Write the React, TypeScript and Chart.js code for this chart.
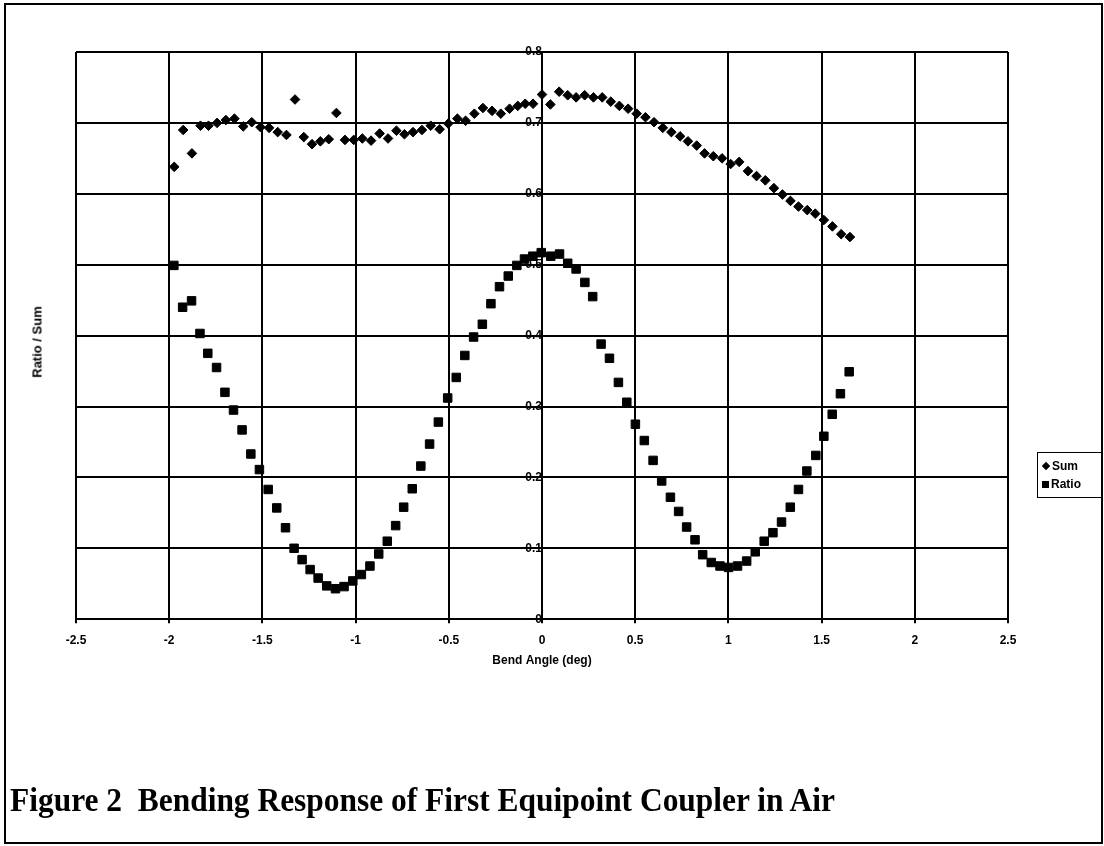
import React, { useEffect, useRef } from "react";
import { Chart, registerables } from "chart.js";

Chart.register(...registerables);

// Bend angle (deg) and Sum readings
const sumAngle = [
  -1.973, -1.925, -1.878, -1.832, -1.789, -1.743, -1.696, -1.65, -1.603, -1.557,
  -1.51, -1.464, -1.418, -1.371, -1.325, -1.278, -1.234, -1.189, -1.144, -1.103,
  -1.057, -1.01, -0.964, -0.917, -0.871, -0.826, -0.781, -0.738, -0.692, -0.644,
  -0.597, -0.549, -0.503, -0.454, -0.41, -0.363, -0.317, -0.268, -0.221, -0.174,
  -0.13, -0.09, -0.048, 0.0, 0.045, 0.092, 0.138, 0.183, 0.229, 0.276,
  0.323, 0.369, 0.415, 0.462, 0.508, 0.555, 0.601, 0.648, 0.694, 0.741,
  0.783, 0.83, 0.872, 0.919, 0.966, 1.012, 1.058, 1.105, 1.151, 1.198,
  1.244, 1.29, 1.333, 1.376, 1.423, 1.466, 1.512, 1.558, 1.605, 1.652,
];
const sumValue = [
  0.638, 0.69, 0.657, 0.696, 0.696, 0.7, 0.704, 0.706, 0.695, 0.701,
  0.694, 0.693, 0.687, 0.683, 0.733, 0.68, 0.67, 0.674, 0.677, 0.714,
  0.676, 0.676, 0.678, 0.675, 0.685, 0.678, 0.689, 0.684, 0.687, 0.69,
  0.696, 0.691, 0.699, 0.706, 0.703, 0.713, 0.721, 0.717, 0.713, 0.72,
  0.724, 0.727, 0.727, 0.74, 0.726, 0.744, 0.739, 0.736, 0.739, 0.736,
  0.736, 0.73, 0.724, 0.72, 0.713, 0.708, 0.701, 0.693, 0.687, 0.681,
  0.674, 0.668, 0.657, 0.653, 0.65, 0.642, 0.645, 0.632, 0.625, 0.619,
  0.608, 0.599, 0.59, 0.582, 0.577, 0.572, 0.563, 0.554, 0.543, 0.539,
];

// Bend angle (deg) and Ratio readings
const ratioAngle = [
  -1.975, -1.928, -1.88, -1.835, -1.793, -1.746, -1.701, -1.655, -1.609, -1.562,
  -1.516, -1.469, -1.423, -1.376, -1.33, -1.287, -1.244, -1.201, -1.155, -1.108,
  -1.062, -1.015, -0.969, -0.923, -0.876, -0.83, -0.785, -0.742, -0.696, -0.65,
  -0.603, -0.556, -0.506, -0.46, -0.414, -0.367, -0.32, -0.274, -0.228, -0.181,
  -0.135, -0.094, -0.049, -0.004, 0.047, 0.094, 0.138, 0.183, 0.23, 0.272,
  0.317, 0.362, 0.41, 0.455, 0.501, 0.549, 0.596, 0.642, 0.689, 0.733,
  0.776, 0.821, 0.862, 0.908, 0.955, 1.001, 1.049, 1.098, 1.144, 1.192,
  1.239, 1.285, 1.332, 1.376, 1.421, 1.469, 1.512, 1.557, 1.601, 1.648,
];
const ratioValue = [
  0.499, 0.44, 0.449, 0.403, 0.375, 0.355, 0.32, 0.295, 0.267, 0.233,
  0.211, 0.183, 0.157, 0.129, 0.1, 0.084, 0.07, 0.058, 0.047, 0.043,
  0.046, 0.054, 0.063, 0.075, 0.092, 0.11, 0.132, 0.158, 0.184, 0.216,
  0.247, 0.278, 0.312, 0.341, 0.372, 0.398, 0.416, 0.445, 0.469, 0.484,
  0.499, 0.508, 0.512, 0.517, 0.512, 0.515, 0.502, 0.494, 0.475, 0.455,
  0.388, 0.368, 0.334, 0.306, 0.275, 0.252, 0.224, 0.195, 0.172, 0.152,
  0.13, 0.112, 0.091, 0.08, 0.075, 0.073, 0.075, 0.082, 0.095, 0.11,
  0.122, 0.137, 0.158, 0.183, 0.209, 0.231, 0.258, 0.289, 0.318, 0.349,
];

const seriesNames = ["Sum", "Ratio"];
const xAxisTitle = "Bend Angle (deg)";
const yAxisTitle = "Ratio / Sum";
const captionText = "Figure 2  Bending Response of First Equipoint Coupler in Air";

const W = 1104;
const H = 846;
const labelFont = { family: "'Liberation Sans', Arial, sans-serif", weight: "bold" as const, size: 12 };

export default function App() {
  const canvasRef = useRef<HTMLCanvasElement | null>(null);
  const captionRef = useRef<HTMLSpanElement | null>(null);

  useEffect(() => {
    const canvas = canvasRef.current;
    if (!canvas) return;
    const chart = new Chart(canvas, {
      type: "scatter",
      data: {
        datasets: [
          {
            label: seriesNames[0],
            data: sumAngle.map((x, i) => ({ x, y: sumValue[i] })),
            pointStyle: "rectRot",
            pointRadius: 4.8,
            backgroundColor: "#000",
            borderColor: "#000",
            borderWidth: 1,
          },
          {
            label: seriesNames[1],
            data: ratioAngle.map((x, i) => ({ x, y: ratioValue[i] })),
            pointStyle: "rect",
            pointRadius: 6,
            backgroundColor: "#000",
            borderColor: "#000",
            borderWidth: 1,
          },
        ],
      },
      options: {
        animation: false,
        responsive: false,
        devicePixelRatio: 1,
        layout: { padding: { left: 76, right: 96, top: 52, bottom: 174 } },
        plugins: { legend: { display: false }, tooltip: { enabled: false } },
        scales: {
          x: {
            type: "linear",
            position: "bottom",
            min: -2.5,
            max: 2.5,
            ticks: {
              stepSize: 0.5,
              color: "#000",
              font: labelFont,
              padding: 10,
              maxRotation: 0,
              autoSkip: false,
              callback: (v: any) => String(Number(Number(v).toFixed(2))),
            },
            grid: { color: "#000", lineWidth: 2, tickLength: 4, drawTicks: true },
            border: { color: "#000", width: 2 },
            title: {
              display: true,
              text: xAxisTitle,
              color: "#000",
              font: labelFont,
              padding: { top: -4, bottom: 4 },
            },
          },
          y: {
            type: "linear",
            position: { x: 0 } as any,
            min: 0,
            max: 0.8,
            ticks: {
              stepSize: 0.1,
              color: "#000",
              font: labelFont,
              padding: 6,
              callback: (v: any) => String(Number(Number(v).toFixed(2))),
            },
            grid: { color: "#000", lineWidth: 2, drawTicks: false },
            border: { color: "#000", width: 2 },
          },
        },
      },
    });
    return () => chart.destroy();
  }, []);

  useEffect(() => {
    const fit = () => {
      const el = captionRef.current;
      if (!el) return;
      el.style.transform = "none";
      const w = el.getBoundingClientRect().width;
      if (w > 0) el.style.transform = `scaleX(${825 / w})`;
    };
    fit();
    if ((document as any).fonts && (document as any).fonts.ready) {
      (document as any).fonts.ready.then(fit);
    }
  }, []);

  return (
    <div style={{ position: "absolute", left: 0, top: 0, width: W, height: H, background: "#fff", overflow: "hidden" }}>
      <div
        style={{
          position: "absolute",
          left: 4,
          top: 3,
          width: 1099,
          height: 841,
          border: "2px solid #000",
          boxSizing: "border-box",
        }}
      />
      <canvas ref={canvasRef} width={W} height={H} style={{ position: "absolute", left: 0, top: 0, width: W, height: H }} />
      <div
        style={{
          position: "absolute",
          left: 37,
          top: 342,
          transform: "translate(-50%, -50%) rotate(-90deg)",
          font: "bold 13px 'Liberation Sans', Arial, sans-serif",
          whiteSpace: "nowrap",
          color: "#000",
        }}
      >
        {yAxisTitle}
      </div>
      <div
        style={{
          position: "absolute",
          left: 1037,
          top: 452,
          width: 65,
          height: 46,
          border: "1px solid #000",
          boxSizing: "border-box",
          font: "bold 12px 'Liberation Sans', Arial, sans-serif",
          color: "#000",
          padding: "4px 0 0 3px",
        }}
      >
        <div style={{ display: "flex", alignItems: "center", height: 18 }}>
          <span style={{ display: "inline-block", width: 6, height: 6, background: "#000", transform: "rotate(45deg)", margin: "0 3px 0 2px" }} />
          {seriesNames[0]}
        </div>
        <div style={{ display: "flex", alignItems: "center", height: 18 }}>
          <span style={{ display: "inline-block", width: 7, height: 7, background: "#000", margin: "0 2px 0 1px" }} />
          {seriesNames[1]}
        </div>
      </div>
      <div style={{ position: "absolute", left: 10, top: 781, whiteSpace: "pre", lineHeight: 1 }}>
        <span
          ref={captionRef}
          style={{
            display: "inline-block",
            whiteSpace: "pre",
            transformOrigin: "0 0",
            font: "bold 34px 'Liberation Serif', 'Times New Roman', serif",
            color: "#000",
          }}
        >
          {captionText}
        </span>
      </div>
    </div>
  );
}
